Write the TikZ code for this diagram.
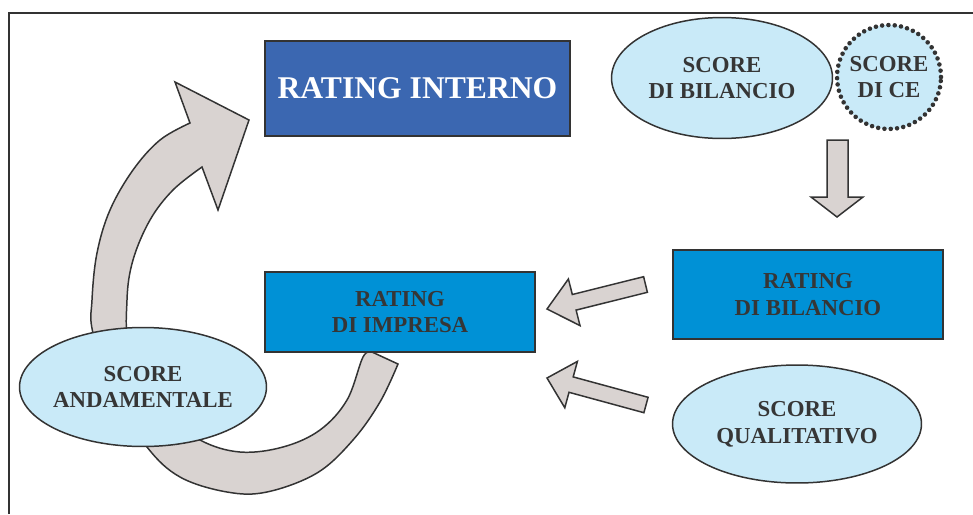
\documentclass[tikz,border=0pt]{standalone}
\usepackage{fontspec}
\setmainfont{Liberation Serif}
\usetikzlibrary{shapes.geometric}
\definecolor{darkblue}{HTML}{3B67B1}
\definecolor{lightblue}{HTML}{0091D6}
\definecolor{paleblue}{HTML}{C9EAF8}
\definecolor{arrowgray}{HTML}{D9D3D1}
\definecolor{edgegray}{HTML}{333333}
\definecolor{textgray}{HTML}{363636}

\begin{document}
\begin{tikzpicture}[x=0.02cm, y=-0.02cm,
    box/.style={draw=edgegray, line width=0.8pt, align=center, text=textgray,
      font=\bfseries\fontsize{13}{15.3}\selectfont},
    score/.style={ellipse, draw=edgegray, line width=0.85pt, fill=paleblue,
      inner xsep=-4pt, inner ysep=0pt, align=center, text=textgray,
      font=\bfseries\fontsize{13}{15.3}\selectfont},
    fatarrow/.style={draw=edgegray, line width=0.85pt, fill=arrowgray, line join=miter}]
    \useasboundingbox (0,0) rectangle (973,514);
    \draw [edgegray, line width=1.2pt] (9,514) -- (9,13) -- (973,13);
    % big round arrow
    \draw [fatarrow] plot [smooth, tension=0.6] coordinates {(398,364) (380,402) (353,440) (317,473) (267,492) (227,492) (180,477) (147,447) (115,395) (93,333) (92,300) (97,253) (110,210) (133,170) (160,140) (190,123)}
      -- (175,82) -- (249,120) -- (218,210) -- (202,167)
      -- plot [smooth, tension=0.6] coordinates {(202,167) (173,190) (150,220) (133,260) (127,300) (130,350) (160,410) (200,440) (240,452) (283,447) (320,430) (347,400) (363,357) (372,352)}
      -- cycle;
    % straight arrows
    \draw [fatarrow] (827,140) -- (848,140) -- (848,197) -- (863,197) -- (837,217) -- (811,197) -- (827,197) -- cycle;
    \draw [fatarrow] (643.6,276.7) -- (572.3,294.5) -- (568.4,279) -- (547,309) -- (580,325.6) -- (576.1,310.1) -- (647.4,292.3) -- cycle;
    \draw [fatarrow] (648.1,397.3) -- (573.2,376.9) -- (577.4,361.4) -- (547,378) -- (564.8,407.8) -- (569,392.3) -- (643.9,412.7) -- cycle;
    \node [box, fill=darkblue, text=white, minimum width=6.1cm, minimum height=1.9cm,
      font=\bfseries\fontsize{18}{20}\selectfont] (a) at (417.5,88.5) {RATING INTERNO};
    \node [score, minimum width=4.42cm, minimum height=2.42cm] (b) at (722,78) {SCORE\\DI BILANCIO};
    \node [score, circle, dash pattern=on 0pt off 3.6pt, line cap=round, line width=2.6pt,
      minimum size=2.08cm] (c) at (889,77) {SCORE\\DI CE};
    \node [box, fill=lightblue, minimum width=5.4cm, minimum height=1.78cm] (d) at (808,294.5) {RATING\\DI BILANCIO};
    \node [box, fill=lightblue, minimum width=5.4cm, minimum height=1.6cm] (e) at (400,312) {RATING\\DI IMPRESA};
    \node [score, minimum width=4.98cm, minimum height=2.36cm] (f) at (797,424) {SCORE\\QUALITATIVO};
    \node [score, minimum width=4.94cm, minimum height=2.38cm] (g) at (143,387) {SCORE\\ANDAMENTALE};
\end{tikzpicture}
\end{document}
